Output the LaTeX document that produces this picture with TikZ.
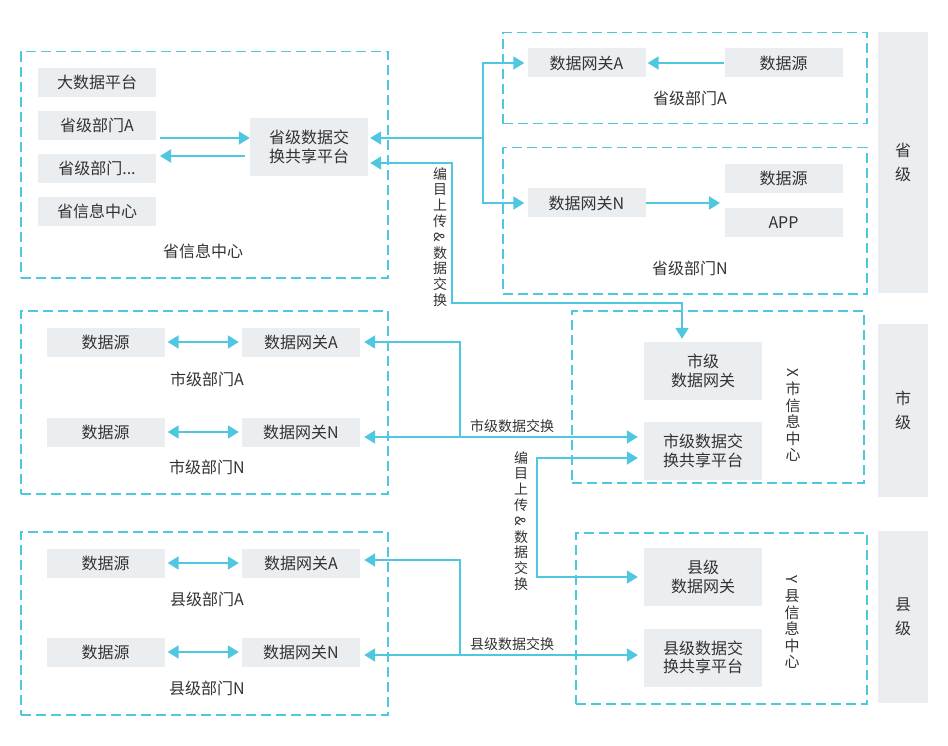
\documentclass[tikz,border=0pt]{standalone}
\usepackage{fontspec}
\usepackage{graphicx}
\setmainfont{Noto Sans CJK SC}
\usetikzlibrary{arrows.meta,calc}
\definecolor{cy}{HTML}{4FC7E1}
\definecolor{gb}{HTML}{EBEEF1}
\definecolor{tx}{HTML}{333333}
\newcommand\rotch[1]{\rotatebox[origin=c]{-90}{#1}}
\tikzset{
 gbox/.style={fill=gb, inner sep=0pt, text=tx, font=\fontsize{16}{18.5}\selectfont, align=center},
 sbox/.style={minimum width=118pt, minimum height=29pt},
 tbox/.style={minimum width=118pt, minimum height=58pt},
 barbox/.style={fill=gb, inner sep=0pt, text=tx, minimum width=50pt, align=center, font=\fontsize{16}{24}\selectfont},
 lbl/.style={inner sep=0pt, text=tx, font=\fontsize{16}{18.5}\selectfont},
 slbl/.style={inner sep=0pt, text=tx, font=\fontsize{14}{16}\selectfont},
 vlbl/.style={inner sep=0pt, text=tx, align=center, font=\fontsize{14}{15.8}\selectfont},
 dbox/.style={draw=cy, line width=1.5pt, dash pattern=on 10pt off 5pt, inner sep=0pt, anchor=north west},
 conn/.style={draw=cy, line width=2pt},
 arr/.style={conn, -{Triangle[length=11pt,width=13pt]}},
 darr/.style={conn, {Triangle[length=11pt,width=13pt]}-{Triangle[length=11pt,width=13pt]}},
}
\begin{document}
\begin{tikzpicture}[x=1pt,y=-1pt]
\useasboundingbox (0,0) rectangle (948,746);

% ---------- province info centre ----------
\node[dbox, minimum width=367pt, minimum height=226pt] (pcenter) at (20,51) {};
\node[gbox,sbox] (pbig) at (97,82.5) {大数据平台};
\node[gbox,sbox] (pdA) at (97,125.5) {省级部门A};
\node[gbox,sbox] (pdE) at (97,168.5) {省级部门...};
\node[gbox,sbox] (pinf) at (97,211.5) {省信息中心};
\node[gbox,tbox] (pplat) at (309,147) {省级数据交\\换共享平台};
\node[lbl] (pcl) at (203,251) {省信息中心};

% ---------- province dept A ----------
\node[dbox, minimum width=364pt, minimum height=91pt] (pdeptA) at (502,32) {};
\node[gbox,sbox] (pgwA) at (586.5,63) {数据网关A};
\node[gbox,sbox] (psrcA) at (783.5,63) {数据源};
\node[lbl] (pdAl) at (690,98) {省级部门A};

% ---------- province dept N ----------
\node[dbox, minimum width=364pt, minimum height=146pt] (pdeptN) at (502,147) {};
\node[gbox,sbox] (pgwN) at (586.5,203) {数据网关N};
\node[gbox,sbox] (psrcN) at (783.5,178.5) {数据源};
\node[gbox,sbox] (papp) at (783.5,222.5) {APP};
\node[lbl] (pdNl) at (690,268) {省级部门N};

\node[barbox, minimum height=261pt] (pbar) at (903,162.5) {省\\级};

% ---------- city ----------
\node[dbox, minimum width=367pt, minimum height=183pt] (cleft) at (20,310) {};
\node[gbox,sbox] (csrcA) at (105.5,342) {数据源};
\node[gbox,sbox] (cgwA) at (301,342) {数据网关A};
\node[lbl] (cdAl) at (207,379) {市级部门A};
\node[gbox,sbox] (csrcN) at (105.5,432) {数据源};
\node[gbox,sbox] (cgwN) at (301,432) {数据网关N};
\node[lbl] (cdNl) at (207,467) {市级部门N};

\node[dbox, minimum width=292pt, minimum height=172pt] (xbox) at (571,310) {};
\node[gbox,tbox] (cgw) at (703,371) {市级\\数据网关};
\node[gbox,tbox] (cplat) at (703,451) {市级数据交\\换共享平台};
\node[vlbl, font=\fontsize{15}{16.5}\selectfont] (xl) at (793,415) {\rotch{X}\\市\\信\\息\\中\\心};
\node[barbox, minimum height=173pt] (cbar) at (903,410.5) {市\\级};

% ---------- county ----------
\node[dbox, minimum width=367pt, minimum height=183pt] (yleft) at (20,531) {};
\node[gbox,sbox] (ysrcA) at (105.5,563) {数据源};
\node[gbox,sbox] (ygwA) at (301,563) {数据网关A};
\node[lbl] (ydAl) at (207,599) {县级部门A};
\node[gbox,sbox] (ysrcN) at (105.5,652) {数据源};
\node[gbox,sbox] (ygwN) at (301,652) {数据网关N};
\node[lbl] (ydNl) at (207,688) {县级部门N};

\node[dbox, minimum width=291pt, minimum height=171pt] (ybox) at (575,532) {};
\node[gbox,tbox] (ygw) at (703,577) {县级\\数据网关};
\node[gbox,tbox] (yplat) at (703,657.5) {县级数据交\\换共享平台};
\node[vlbl, font=\fontsize{15}{16.5}\selectfont] (yl) at (792,622) {\rotch{Y}\\县\\信\\息\\中\\心};
\node[barbox, minimum height=172pt] (ybar) at (903,617) {县\\级};

% ---------- connectors: province ----------
\coordinate (a1) at (160,138);
\draw[arr] (a1) -- (a1 -| pplat.west);
\coordinate (a2) at (160,156);
\draw[arr] ($(a2 -| pplat.west)+(-5,0)$) -- (a2);

\draw[arr, shorten >=2pt] (psrcA) -- (pgwA);
\coordinate (a3) at (720,203);
\draw[arr] (pgwN) -- (a3);

\coordinate (j1) at (483,138);
\draw[arr, shorten >=2pt] (j1) -- (j1 -| pplat.east);
\draw[arr, shorten >=3pt] (j1) |- (pgwA.west);
\draw[arr, shorten >=3pt] (j1) |- (pgwN.west);

\coordinate (v1) at (452,163);
\coordinate (v2) at (682,303);
\draw[darr, shorten <=2pt, shorten >=3pt] (v1 -| pplat.east) -- (v1) |- (v2) -- (v2 |- cgw.north);
\node[vlbl] (vt1) at (440,237) {编\\目\\上\\传\\\rotch{\&}\\数\\据\\交\\换};

% ---------- connectors: city ----------
\draw[darr, shorten <=3pt, shorten >=3pt] (csrcA) -- (cgwA);
\draw[darr, shorten <=3pt, shorten >=3pt] (csrcN) -- (cgwN);
\coordinate (m1) at (460,437);
\draw[darr, shorten <=4pt, shorten >=6pt] (m1 -| cgwN.east) -- (m1 -| cplat.west);
\draw[arr, shorten >=4pt] (m1) |- (cgwA.east);
\node[slbl, anchor=south] (cex) at (512,433) {市级数据交换};

\coordinate (e1) at (537,458);
\draw[darr, shorten <=6pt, shorten >=6pt] (e1 -| cplat.west) -- (e1) |- (ygw.west);
\node[vlbl] (vt2) at (521,521) {编\\目\\上\\传\\\rotch{\&}\\数\\据\\交\\换};

% ---------- connectors: county ----------
\draw[darr, shorten <=3pt, shorten >=3pt] (ysrcA) -- (ygwA);
\draw[darr, shorten <=3pt, shorten >=3pt] (ysrcN) -- (ygwN);
\coordinate (n1) at (460,655);
\coordinate (n2) at (460,560);
\draw[darr, shorten <=4pt, shorten >=6pt] (n1 -| ygwN.east) -- (n1 -| yplat.west);
\draw[arr, shorten >=4pt] (n1) -- (n2) -- (n2 -| ygwA.east);
\node[slbl, anchor=south] (yex) at (512,651) {县级数据交换};

\end{tikzpicture}
\end{document}
